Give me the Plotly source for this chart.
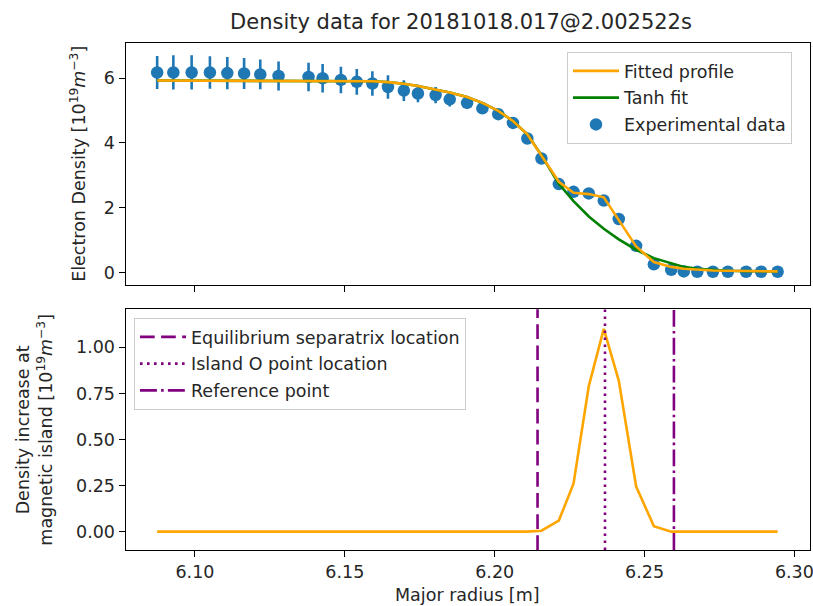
import plotly.graph_objects as go

# ---------------- data ----------------
R = [6.0874, 6.0928, 6.0989, 6.1050, 6.1108, 6.1164, 6.1218, 6.1279,
     6.1379, 6.1426, 6.1487, 6.1540, 6.1592, 6.1644, 6.1697, 6.1744,
     6.1803, 6.1850, 6.1908, 6.1959, 6.2012, 6.2061, 6.2109, 6.2156,
     6.2214, 6.2263, 6.2314, 6.2364, 6.2414, 6.2472, 6.2531, 6.2589,
     6.2631, 6.2676, 6.2728, 6.2778, 6.2839, 6.2889, 6.2944]

ne = [6.18, 6.18, 6.18, 6.18, 6.16, 6.15, 6.12, 6.07,
      6.04, 6.00, 5.95, 5.89, 5.84, 5.73, 5.62, 5.53,
      5.48, 5.35, 5.24, 5.07, 4.89, 4.62, 4.14, 3.52,
      2.73, 2.49, 2.44, 2.22, 1.65, 0.82, 0.25, 0.08,
      0.03, 0.02, 0.02, 0.02, 0.02, 0.02, 0.02]

ne_err = [0.51, 0.53, 0.53, 0.50, 0.50, 0.48, 0.46, 0.45,
          0.44, 0.44, 0.41, 0.40, 0.38, 0.36, 0.32, 0.27,
          0.25, 0.22, 0.18, 0.15, 0.12, 0.10, 0.08, 0.07,
          0.06, 0.05, 0.05, 0.05, 0.05, 0.04, 0.03, 0.02,
          0.02, 0.02, 0.02, 0.02, 0.02, 0.02, 0.02]

fitted = [5.93, 5.93, 5.93, 5.93, 5.93, 5.93, 5.93, 5.93,
          5.93, 5.93, 5.93, 5.93, 5.91, 5.88, 5.83, 5.76,
          5.66, 5.56, 5.42, 5.24, 4.99, 4.68, 4.27, 3.62,
          2.80, 2.46, 2.42, 2.32, 1.62, 0.80, 0.32, 0.17,
          0.11, 0.08, 0.06, 0.05, 0.04, 0.03, 0.03]

tanh_fit = [5.93, 5.93, 5.93, 5.93, 5.93, 5.93, 5.93, 5.93,
            5.93, 5.93, 5.93, 5.93, 5.91, 5.88, 5.83, 5.76,
            5.66, 5.56, 5.42, 5.24, 4.99, 4.68, 4.27, 3.62,
            2.74, 2.20, 1.73, 1.35, 1.02, 0.70, 0.44, 0.27,
            0.17, 0.11, 0.07, 0.05, 0.04, 0.03, 0.03]

island_increase = [0, 0, 0, 0, 0, 0, 0, 0,
                   0, 0, 0, 0, 0, 0, 0, 0,
                   0, 0, 0, 0, 0, 0, 0, 0.005,
                   0.06, 0.26, 0.79, 1.10, 0.82, 0.245, 0.03, 0.0,
                   0, 0, 0, 0, 0, 0, 0]

separatrix_R = 6.2143
o_point_R = 6.2368
reference_R = 6.2598

title_text = "Density data for 20181018.017@2.002522s"
top_ylabel = "Electron Density [10<sup>19</sup><i>m</i><sup>−3</sup>]"
bottom_ylabel = "Density increase at<br>magnetic island [10<sup>19</sup><i>m</i><sup>−3</sup>]"
xlabel = "Major radius [m]"
x_ticks = [6.10, 6.15, 6.20, 6.25, 6.30]
top_y_ticks = [0, 2, 4, 6]
bottom_y_ticks = [0.00, 0.25, 0.50, 0.75, 1.00]

# ---------------- figure ----------------
FONT = "DejaVu Sans"
W, H = 813, 606
BLUE = "#1f77b4"
TXT = "#262626"
FS = 17.5
LW = 2.6

XL, XR = 125.7, 810.0          # axes left/right in px
T_TOP, T_BOT = 42.7, 285.0      # top axes
B_TOP, B_BOT = 309.3, 550.0     # bottom axes

fig = go.Figure()

fig.add_trace(go.Scatter(
    x=R, y=ne, mode="markers", name="Experimental data",
    marker=dict(color=BLUE, size=12.5),
    error_y=dict(type="data", array=ne_err, color=BLUE, thickness=LW, width=0),
    xaxis="x", yaxis="y", legend="legend", legendrank=3, legendgroup="c"))
fig.add_trace(go.Scatter(
    x=R, y=tanh_fit, mode="lines", name="Tanh fit",
    line=dict(color="green", width=LW),
    xaxis="x", yaxis="y", legend="legend", legendrank=2, legendgroup="b"))
fig.add_trace(go.Scatter(
    x=R, y=fitted, mode="lines", name="Fitted profile",
    line=dict(color="orange", width=LW),
    xaxis="x", yaxis="y", legend="legend", legendrank=1, legendgroup="a"))

fig.add_trace(go.Scatter(
    x=R, y=island_increase, mode="lines", showlegend=False,
    line=dict(color="orange", width=LW),
    xaxis="x2", yaxis="y2"))

vlines = [
    (separatrix_R, "Equilibrium separatrix location", "14.7px,6.4px", "d"),
    (o_point_R, "Island O point location", "2.6px,4.4px", "e"),
    (reference_R, "Reference point", "16.9px,4.2px,2.6px,4.2px", "f"),
]
for i, (xv, nm, dash, grp) in enumerate(vlines):
    fig.add_shape(type="line", xref="x2", yref="y2 domain",
                  x0=xv, x1=xv, y0=0, y1=1,
                  line=dict(color="purple", width=LW, dash=dash),
                  name=nm, showlegend=True, legend="legend2",
                  legendrank=i + 1, legendgroup=grp, layer="above")

xr = [6.0769, 6.3052]
axis_common = dict(
    showline=True, linecolor="black", linewidth=1.4, mirror=True,
    ticks="outside", ticklen=6, tickwidth=1.4, tickcolor="black",
    showgrid=False, zeroline=False, automargin=False,
    ticklabeloverflow="allow",
    tickfont=dict(family=FONT, size=FS, color=TXT),
)

annotations = [
    dict(text=top_ylabel, textangle=-90, xref="paper", yref="paper",
         x=78 / W, y=1 - (T_TOP + T_BOT) / 2 / H, xanchor="center", yanchor="middle",
         showarrow=False, font=dict(family=FONT, size=FS, color=TXT)),
    dict(text=bottom_ylabel, textangle=-90, xref="paper", yref="paper",
         x=35 / W, y=1 - (B_TOP + B_BOT) / 2 / H, xanchor="center", yanchor="middle",
         showarrow=False, font=dict(family=FONT, size=FS, color=TXT)),
    dict(text=xlabel, xref="paper", yref="paper",
         x=(XL + XR) / 2 / W, y=1 - 595 / H, xanchor="center", yanchor="middle",
         showarrow=False, font=dict(family=FONT, size=FS, color=TXT)),
]

legend_common = dict(
    xanchor="left", yanchor="top",
    bgcolor="rgba(255,255,255,0.8)", bordercolor="#cccccc", borderwidth=1,
    font=dict(family=FONT, size=FS, color=TXT),
    tracegroupgap=1, traceorder="grouped", itemwidth=46,
)

fig.update_layout(
    width=W, height=H,
    margin=dict(l=0, r=0, t=0, b=0),
    paper_bgcolor="white", plot_bgcolor="white",
    font=dict(family=FONT, color=TXT),
    title=dict(text=title_text, x=461 / W, xanchor="center",
               y=1 - 22 / H, yanchor="middle",
               font=dict(family=FONT, size=21, color=TXT)),
    xaxis=dict(domain=[XL / W, XR / W], range=xr, anchor="y",
               tickvals=x_ticks, showticklabels=False, **axis_common),
    yaxis=dict(domain=[1 - T_BOT / H, 1 - T_TOP / H], range=[-0.39, 7.1],
               tickvals=top_y_ticks, anchor="x", **axis_common),
    xaxis2=dict(domain=[XL / W, XR / W], range=xr, anchor="y2",
                matches="x", tickvals=x_ticks, tickformat=".2f", **axis_common),
    yaxis2=dict(domain=[1 - B_BOT / H, 1 - B_TOP / H], range=[-0.0995, 1.2065],
                tickvals=bottom_y_ticks, tickformat=".2f", anchor="x2",
                **axis_common),
    annotations=annotations,
    legend=dict(x=567 / W, y=1 - 52 / H, **legend_common),
    legend2=dict(x=134 / W, y=1 - 318 / H, **legend_common),
)

fig.write_html("out.html")
